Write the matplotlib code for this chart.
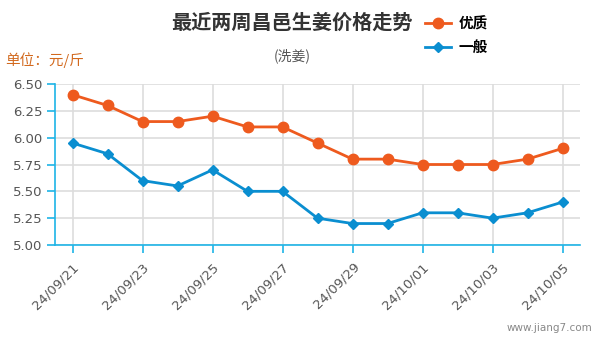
import matplotlib
matplotlib.use("Agg")
import matplotlib.pyplot as plt
from matplotlib.lines import Line2D

plt.rcParams['font.family'] = ['Noto Sans CJK SC', 'DejaVu Sans']

dates = ["24/09/21", "24/09/22", "24/09/23", "24/09/24", "24/09/25", "24/09/26", "24/09/27",
         "24/09/28", "24/09/29", "24/09/30", "24/10/01", "24/10/02", "24/10/03", "24/10/04", "24/10/05"]
premium = [6.40, 6.30, 6.15, 6.15, 6.20, 6.10, 6.10, 5.95, 5.80, 5.80, 5.75, 5.75, 5.75, 5.80, 5.90]
normal = [5.95, 5.85, 5.60, 5.55, 5.70, 5.50, 5.50, 5.25, 5.20, 5.20, 5.30, 5.30, 5.25, 5.30, 5.40]
yticks = [5.00, 5.25, 5.50, 5.75, 6.00, 6.25, 6.50]

W, H = 599, 339
fig = plt.figure(figsize=(W / 100, H / 100), dpi=100)
ax = fig.add_axes([55 / W, (H - 245) / H, (580 - 55) / W, (245 - 84) / H])

orange = '#EE5A1E'
blue = '#0A8ED0'
axis_c = '#1EB4E6'

x = list(range(len(dates)))
ax.plot(x, premium, color=orange, lw=2, marker='o', ms=7.5, zorder=3)
ax.plot(x, normal, color=blue, lw=2, marker='D', ms=5.5, zorder=3)

ax.set_xlim(-0.5, len(dates) - 0.5)
ax.set_ylim(5.0, 6.5)
ax.set_yticks(yticks)
ax.set_yticklabels([f"{v:.2f}" for v in yticks], family='DejaVu Sans', fontsize=9.5)
ax.set_xticks(x[::2])
ax.set_xticklabels(dates[::2], rotation=45, ha='right', va='top', rotation_mode='anchor',
                   family='DejaVu Sans', fontsize=9.5)

ax.grid(True, color='#DDDDDD', lw=1.2, zorder=0)
ax.set_axisbelow(True)
for s in ['top', 'right']:
    ax.spines[s].set_visible(False)
for s in ['left', 'bottom']:
    ax.spines[s].set_color(axis_c)
    ax.spines[s].set_linewidth(1.2)
ax.tick_params(axis='both', colors=axis_c, length=6, width=1.2, labelcolor='#555555')
ax.tick_params(axis='x', pad=5)
ax.tick_params(axis='y', pad=3)

fig.text(292 / W, 1 - 22 / H, "最近两周昌邑生姜价格走势", ha='center', va='center',
         fontsize=14.5, fontweight='bold', color='#333333')
fig.text(292 / W, 1 - 56 / H, "(洗姜)", ha='center', va='center', fontsize=10, color='#555555')
fig.text(5 / W, 1 - 60 / H, "单位：元/斤", ha='left', va='center', fontsize=10.5, color='#D2691E')
fig.text(592 / W, 1 - 328 / H, "www.jiang7.com", ha='right', va='center', fontsize=7.5,
         color='#888888', family='DejaVu Sans')

handles = [Line2D([], [], color=orange, lw=2, marker='o', ms=7.5),
           Line2D([], [], color=blue, lw=2, marker='D', ms=5.5)]
fig.legend(handles, ["优质", "一般"], loc='upper left', bbox_to_anchor=(412 / W, 1 - 2 / H),
           frameon=False, handlelength=1.8, handletextpad=0.5, labelspacing=0.55,
           prop={'family': 'Noto Sans CJK SC', 'weight': 'bold', 'size': 10.5})

fig.savefig("out.png", dpi=100)
